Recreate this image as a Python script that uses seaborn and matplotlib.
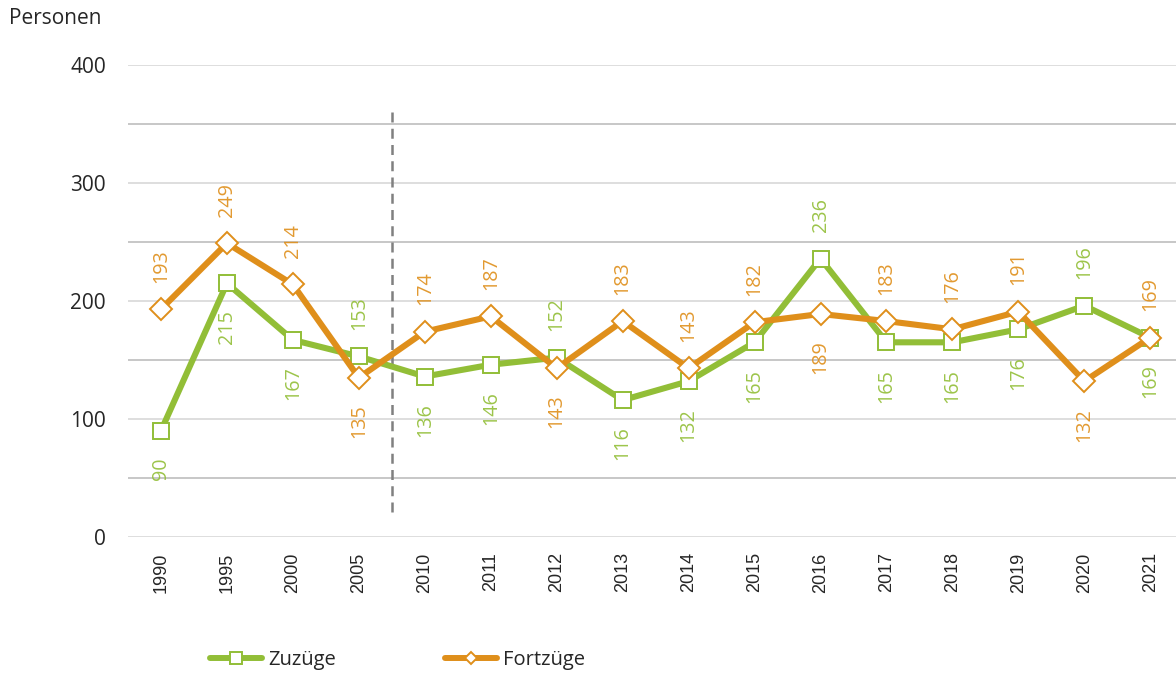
import seaborn as sns
import pandas as pd
import matplotlib.pyplot as plt
from matplotlib.lines import Line2D

# data
years = ["1990", "1995", "2000", "2005", "2010", "2011", "2012", "2013",
         "2014", "2015", "2016", "2017", "2018", "2019", "2020", "2021"]
zuzuege = [90, 215, 167, 153, 136, 146, 152, 116, 132, 165, 236, 165, 165, 176, 196, 169]
fortzuege = [193, 249, 214, 135, 174, 187, 143, 183, 143, 182, 189, 183, 176, 191, 132, 169]

green = "#92BE37"
orange = "#DF8F1B"

sns.set_style("white")
plt.rcParams["font.family"] = ["Open Sans", "DejaVu Sans"]

df = pd.DataFrame({"pos": range(len(years)), "Zuzüge": zuzuege, "Fortzüge": fortzuege})

fig = plt.figure(figsize=(11.76, 6.73), dpi=100)
ax = fig.add_axes([128 / 1176, 1 - 537 / 673, 1 - 128 / 1176, (537 - 65) / 673])

# gridlines, alternating shades
for v in range(0, 401, 50):
    col = "#d4d4d4" if v % 100 == 0 else "#b8b8b8"
    ax.axhline(v, color=col, lw=1.1, zorder=0)

# dashed separator between 2005 and 2010
ax.vlines(3.5, 21, 363, colors="#808080", linestyles=(0, (4, 2.5)), lw=1.8, zorder=1)

sns.lineplot(data=df, x="pos", y="Zuzüge", ax=ax, color=green, lw=4.4,
             marker="s", ms=12, mfc="white", mec=green, mew=1.4, zorder=3)
sns.lineplot(data=df, x="pos", y="Fortzüge", ax=ax, color=orange, lw=4.4,
             marker="D", ms=11, mfc="white", mec=orange, mew=1.4, zorder=4)

# value labels: higher value above, lower below (tie -> Fortzüge above)
for i in range(len(years)):
    z, f = zuzuege[i], fortzuege[i]
    f_up = f >= z
    for val, col, up in [(z, green, not f_up), (f, orange, f_up)]:
        ax.annotate(str(val), (i, val), xytext=(0, 19 if up else -19),
                    textcoords="offset points", rotation=90, ha="center",
                    va="bottom" if up else "top", color=col, fontsize=14.2,
                    alpha=0.9)

ax.set_xlim(-0.5, 15.39)
ax.set_ylim(0, 400)
ax.set_xticks(range(len(years)))
ax.set_xticklabels(years, rotation=90, fontsize=13,
                   family=["Liberation Sans", "DejaVu Sans"])
ax.set_yticks([0, 100, 200, 300, 400])
ax.tick_params(axis="y", labelsize=15, length=0, pad=16)
ax.tick_params(axis="x", length=0, pad=11)
ax.set_xlabel("")
ax.set_ylabel("")
sns.despine(ax=ax, left=True, bottom=True)

fig.text(9 / 1176, 1 - 19 / 673, "Personen", fontsize=15, va="center", ha="left")

handles = [
    Line2D([], [], color=green, lw=4.3, marker="s", ms=8, mfc="white", mec=green, mew=1.4),
    Line2D([], [], color=orange, lw=4.3, marker="D", ms=6.5, mfc="white", mec=orange, mew=1.4),
]
fig.legend(handles, ["Zuzüge", "Fortzüge"], loc="center left",
           bbox_to_anchor=(210 / 1176, 1 - 660 / 673), ncol=2, frameon=False,
           borderpad=0, borderaxespad=0, fontsize=14.5, handlelength=2.6,
           handletextpad=0.3, columnspacing=5.4)

fig.savefig("out.png", dpi=100)
